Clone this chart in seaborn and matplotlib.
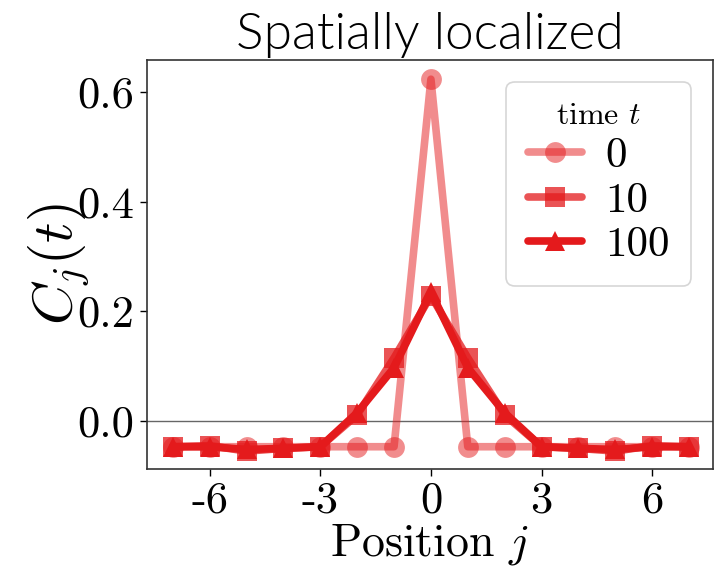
import numpy as np
import pandas as pd
import seaborn as sns
import matplotlib
matplotlib.use("Agg")
import matplotlib.pyplot as plt

positions = [-7, -6, -5, -4, -3, -2, -1, 0, 1, 2, 3, 4, 5, 6, 7]
c_t0 = [-0.047, -0.047, -0.047, -0.047, -0.047, -0.047, -0.047, 0.623, -0.047, -0.047, -0.047, -0.047, -0.047, -0.047, -0.047]
c_t10 = [-0.047, -0.045, -0.055, -0.050, -0.047, 0.011, 0.115, 0.228, 0.115, 0.011, -0.047, -0.050, -0.055, -0.045, -0.047]
c_t100 = [-0.047, -0.047, -0.052, -0.050, -0.047, 0.015, 0.097, 0.235, 0.097, 0.015, -0.047, -0.050, -0.052, -0.047, -0.047]
times = ["0", "10", "100"]
xticks = [-6, -3, 0, 3, 6]
xticklabels = ["-6", "-3", "0", "3", "6"]
yticks = [0.0, 0.2, 0.4, 0.6]
yticklabels = ["0.0", "0.2", "0.4", "0.6"]

sns.set_style("ticks")
plt.rcParams["mathtext.fontset"] = "cm"
plt.rcParams["axes.unicode_minus"] = False
plt.rcParams["text.color"] = "black"
plt.rcParams["axes.labelcolor"] = "black"
plt.rcParams["xtick.color"] = "black"
plt.rcParams["ytick.color"] = "black"

fig = plt.figure(figsize=(7.21, 5.78), dpi=100)
ax = fig.add_axes([147 / 721, 1 - 469 / 578, 566 / 721, 409 / 578])

red = "#e41a1c"
series = [c_t0, c_t10, c_t100]
markers = ["o", "s", "^"]
alphas = [0.5, 0.75, 1.0]
for vals, t, m, a in zip(series, times, markers, alphas):
    df = pd.DataFrame({"j": positions, "C": vals})
    sns.lineplot(data=df, x="j", y="C", ax=ax, color=red, marker=m,
                 markersize=15, linewidth=5.5, alpha=a, markeredgewidth=0,
                 label=t)

ax.axhline(0, color="black", lw=1, alpha=0.6, zorder=0)
ax.set_xlim(-7.7, 7.65)
ax.set_ylim(-0.0876, 0.658)
ax.set_xticks(xticks)
ax.set_xticklabels(xticklabels, fontfamily="cmr10", fontsize=32)
ax.set_yticks(yticks)
ax.set_yticklabels(yticklabels, fontfamily="cmr10", fontsize=32)
ax.tick_params(axis="both", length=5, width=1, pad=4, colors="black")
for s in ax.spines.values():
    s.set_color("#333333")
    s.set_linewidth(1.2)

ax.set_xlabel(r"Position $j$", fontfamily="cmr10", fontsize=33, labelpad=0)
ax.set_ylabel(r"$C_j(t)$", fontsize=41, labelpad=-10)
ax.set_title("Spatially localized", fontfamily="Lato", fontweight=300,
             fontsize=37, pad=8, color="black")

leg = ax.legend(title=r"time $t$", loc="upper right", fontsize=31,
                title_fontsize=23, frameon=True, handlelength=1.25,
                handletextpad=0.55, labelspacing=0.15, borderpad=0.5,
                borderaxespad=0.5)
leg.get_title().set_fontfamily("cmr10")
for txt in leg.get_texts():
    txt.set_fontfamily("cmr10")
leg.get_frame().set_edgecolor("#cccccc")
leg.get_frame().set_linewidth(1.2)

fig.savefig("out.png", dpi=100)
